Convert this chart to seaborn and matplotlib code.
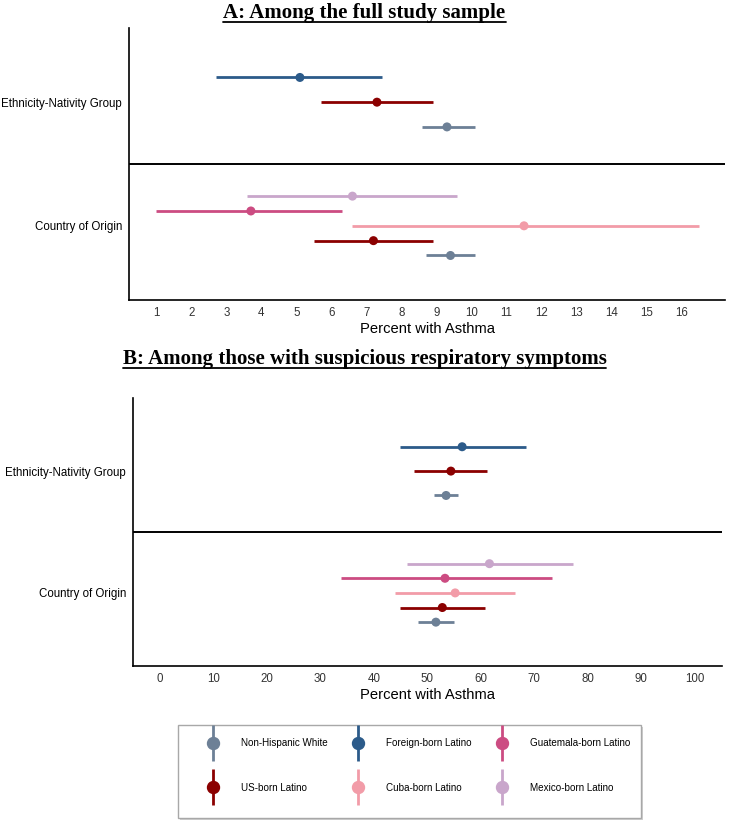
import numpy as np
import pandas as pd
import matplotlib.pyplot as plt
import seaborn as sns
from matplotlib.lines import Line2D
from matplotlib.patches import Rectangle
from matplotlib.legend_handler import HandlerTuple

# Groups and colours
groups = ['Non-Hispanic White', 'US-born Latino', 'Foreign-born Latino',
          'Cuba-born Latino', 'Guatemala-born Latino', 'Mexico-born Latino']
colors = ['#6D8096', '#8B0000', '#2C5B8A', '#F29CA8', '#CC4C82', '#C9A6CB']

rows = ['Ethnicity-Nativity Group', 'Country of Origin']
eth_groups = ['Non-Hispanic White', 'US-born Latino', 'Foreign-born Latino']
coo_groups = ['Non-Hispanic White', 'US-born Latino', 'Cuba-born Latino',
              'Guatemala-born Latino', 'Mexico-born Latino']

# Panel A: full study sample (estimate, lower, upper)
a_eth_est = [9.3, 7.3, 5.1]
a_eth_lo = [8.6, 5.7, 2.7]
a_eth_hi = [10.1, 8.9, 7.45]
a_coo_est = [9.4, 7.2, 11.5, 3.7, 6.6]
a_coo_lo = [8.7, 5.5, 6.6, 1.0, 3.6]
a_coo_hi = [10.1, 8.9, 16.5, 6.3, 9.6]

# Panel B: suspicious respiratory symptoms
b_eth_est = [53.5, 54.4, 56.5]
b_eth_lo = [51.2, 47.6, 44.9]
b_eth_hi = [55.8, 61.2, 68.4]
b_coo_est = [51.6, 52.8, 55.2, 53.3, 61.6]
b_coo_lo = [48.3, 44.9, 43.9, 33.8, 46.2]
b_coo_hi = [55.0, 60.8, 66.4, 73.2, 77.3]


def build(eth_est, eth_lo, eth_hi, coo_est, coo_lo, coo_hi):
    parts = []
    for row, grp, est, lo, hi, width in [
            (rows[0], eth_groups, eth_est, eth_lo, eth_hi, 0.2),
            (rows[1], coo_groups, coo_est, coo_lo, coo_hi, 0.12)]:
        n = len(grp)
        base = rows.index(row) + 1
        # dodge: first group lowest on screen (y axis inverted)
        off = [(n - 1) / 2 - i for i in range(n)]
        parts.append(pd.DataFrame({
            'row': row, 'group': grp, 'est': est, 'lo': lo, 'hi': hi,
            'y': [base + o * width for o in off]}))
    return pd.concat(parts, ignore_index=True)


df_a = build(a_eth_est, a_eth_lo, a_eth_hi, a_coo_est, a_coo_lo, a_coo_hi)
df_b = build(b_eth_est, b_eth_lo, b_eth_hi, b_coo_est, b_coo_lo, b_coo_hi)

sns.set_style('white')
plt.rcParams['font.family'] = ['Liberation Sans', 'DejaVu Sans']
plt.rcParams['text.color'] = 'black'
plt.rcParams['axes.labelcolor'] = 'black'
palette = dict(zip(groups, colors))

fig = plt.figure(figsize=(7.29, 8.21), dpi=100)
ax_a = fig.add_axes([0.177, 0.6346, 0.818, 0.3313])
ax_b = fig.add_axes([0.1824, 0.1888, 0.8076, 0.3264])


def draw(ax, df, xlim, xticks):
    for _, r in df.iterrows():
        ax.hlines(r['y'], r['lo'], r['hi'], color=palette[r['group']], lw=2.0, zorder=2)
    sns.scatterplot(data=df, x='est', y='y', hue='group', palette=palette,
                    s=42, edgecolor='none', legend=False, zorder=3, ax=ax)
    ax.axhline(1.5, color='black', lw=1.4, zorder=1)
    ax.set_ylim(2.6, 0.4)
    ax.set_xlim(*xlim)
    ax.set_yticks([1, 2])
    ax.set_yticklabels(rows)
    ax.set_xticks(xticks)
    ax.set_xlabel('Percent with Asthma', fontsize=10.6, labelpad=2)
    ax.set_ylabel('')
    ax.tick_params(axis='both', labelsize=8.3, length=3, width=0.8,
                   colors='#333333', labelcolor='#333333', pad=2)
    ax.tick_params(axis='y', labelcolor='black')
    sns.despine(ax=ax)
    for s in ['left', 'bottom']:
        ax.spines[s].set_linewidth(1.2)
        ax.spines[s].set_color('black')


draw(ax_a, df_a, (0.22, 17.25), list(range(1, 17)))
draw(ax_b, df_b, (-5, 105), list(range(0, 101, 10)))

# Underlined panel titles
titles = [('A: Among the full study sample', 0.984),
          ('B: Among those with suspicious respiratory symptoms', 0.563)]
fig.canvas.draw()
renderer = fig.canvas.get_renderer()
for txt, ypos in titles:
    t = fig.text(0.5, ypos, txt, ha='center', va='center', fontsize=15,
                 fontweight='bold', family='Liberation Serif', color='black')
    bb = t.get_window_extent(renderer).transformed(fig.transFigure.inverted())
    fig.add_artist(Line2D([bb.x0, bb.x1], [bb.y0 + 0.001, bb.y0 + 0.001],
                          color='black', lw=1.3, transform=fig.transFigure))

# Legend box (with a light drop shadow)
W, H = 729, 821
bx0, bx1, by_top, by_bot = 178, 641, 725, 818
fig.add_artist(Rectangle((bx0 / W + 2 / W, 1 - by_bot / H - 2 / H),
                         (bx1 - bx0) / W, (by_bot - by_top) / H,
                         transform=fig.transFigure, facecolor='#cfcfcf',
                         edgecolor='none', zorder=0))
fig.add_artist(Rectangle((bx0 / W, 1 - by_bot / H),
                         (bx1 - bx0) / W, (by_bot - by_top) / H,
                         transform=fig.transFigure, facecolor='white',
                         edgecolor='#a8a8a8', lw=1.0, zorder=1))

# Legend with vertical pointrange glyphs
handles = []
for c in colors:
    vline = Line2D([], [], marker='|', markersize=26.5, markeredgewidth=2.0,
                   color=c, linestyle='none')
    dot = Line2D([], [], marker='o', markersize=8.6, color=c, linestyle='none')
    handles.append((vline, dot))
leg = fig.legend(handles, groups, ncol=3, loc='center left',
                 bbox_to_anchor=((bx0 + 3) / W, 1 - 765.5 / H),
                 handler_map={tuple: HandlerTuple(ndivide=1)},
                 fontsize=7.1, frameon=False,
                 handlelength=4.5, handletextpad=0.6, columnspacing=0.8,
                 labelspacing=3.5, borderpad=1.0, borderaxespad=0)
leg.set_zorder(2)

fig.savefig('out.png', dpi=100)
